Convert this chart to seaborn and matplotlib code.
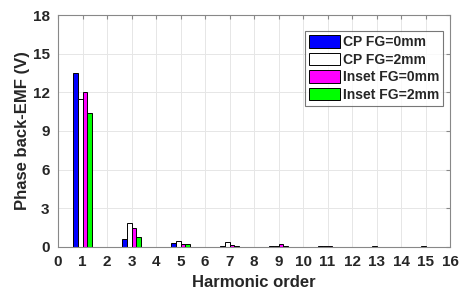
import pandas as pd
import seaborn as sns
import matplotlib.pyplot as plt

# Harmonic amplitudes
harmonics = [1, 3, 5, 7, 9, 11, 13, 15]
cp_fg0 = [13.5, 0.65, 0.30, 0.05, 0.10, 0.10, 0.02, 0.02]
cp_fg2 = [11.5, 1.85, 0.45, 0.40, 0.05, 0.05, 0.06, 0.04]
inset_fg0 = [12.0, 1.50, 0.25, 0.15, 0.20, 0.10, 0.02, 0.01]
inset_fg2 = [10.4, 0.80, 0.20, 0.05, 0.10, 0.03, 0.01, 0.01]

series = ["CP FG=0mm", "CP FG=2mm", "Inset FG=0mm", "Inset FG=2mm"]
colors = ["#0000ff", "#ffffff", "#ff00ff", "#00ff00"]

rows = []
for name, vals in zip(series, [cp_fg0, cp_fg2, inset_fg0, inset_fg2]):
    for h, v in zip(harmonics, vals):
        rows.append({"Harmonic": h, "EMF": v, "Series": name})
df = pd.DataFrame(rows)

sns.set_style("white")
plt.rcParams["font.family"] = ["Liberation Sans", "DejaVu Sans"]

fig = plt.figure(figsize=(4.64, 2.95), dpi=100)
ax = fig.add_axes([0.125, 0.163, 0.845, 0.786])

sns.barplot(
    data=df, x="Harmonic", y="EMF", hue="Series",
    hue_order=series, palette=colors, saturation=1,
    native_scale=True, dodge=True, width=0.4,
    edgecolor="black", linewidth=0.7, ax=ax,
)

ax.set_xlim(0, 16)
ax.set_ylim(0, 18)
ax.set_xticks(range(0, 17))
ax.set_yticks(range(0, 19, 3))
ax.grid(True, color="#e6e6e6", linewidth=0.7)
ax.set_axisbelow(True)
for s in ax.spines.values():
    s.set_color("#888888")
    s.set_linewidth(0.8)
ax.tick_params(direction="in", length=3, color="#888888", top=True, right=True,
               labelsize=11, pad=6)
for lab in ax.get_xticklabels() + ax.get_yticklabels():
    lab.set_fontweight("bold")
    lab.set_color("#262626")

ax.set_xlabel("Harmonic order", fontsize=12, fontweight="bold", color="#262626")
ax.set_ylabel("Phase back-EMF (V)", fontsize=12, fontweight="bold", color="#262626",
              labelpad=2)

leg = ax.legend(loc="upper right", fontsize=10, frameon=True, fancybox=False,
                handlelength=2.2, handleheight=1.0, handletextpad=0.2,
                borderpad=0.3, labelspacing=0.25, bbox_to_anchor=(1.0, 0.96))
leg.get_frame().set_edgecolor("#555555")
leg.get_frame().set_linewidth(0.8)
for t in leg.get_texts():
    t.set_fontweight("bold")

fig.savefig("out.png", dpi=100)
